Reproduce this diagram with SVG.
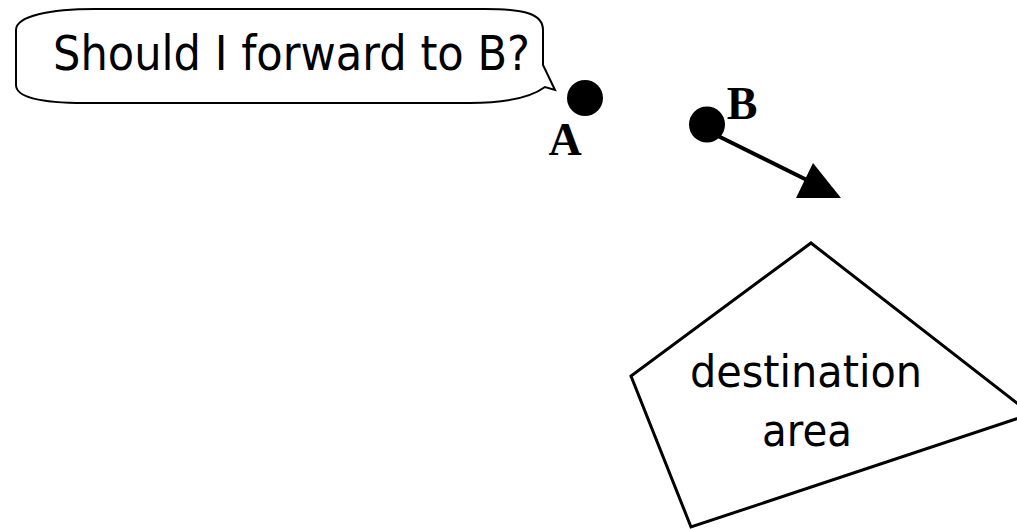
<svg xmlns="http://www.w3.org/2000/svg" width="1017" height="529" viewBox="0 0 1017 529">
  <style>
    .outline { fill: #ffffff; stroke: #000000; stroke-linejoin: miter; }
    .sans { font-family: "DejaVu Sans", Verdana, sans-serif; fill: #000000; }
    .serif { font-family: "Liberation Serif", "Times New Roman", serif; font-weight: bold; fill: #000000; }
    .dot { fill: #000000; }
  </style>
  <rect x="0" y="0" width="1017" height="529" fill="#ffffff"/>

  <g id="bubble">
    <path class="outline" stroke-width="2" d="M16,30 C16,16 50,9 95,9 L485,9 C525,9 543,14 543,30 L543,65 L555,90 L545,87 C530,98 505,103 470,103 L85,103 C40,103 16,97 16,85 Z"/>
    <text class="sans" x="53" y="70" font-size="48" textLength="477" lengthAdjust="spacingAndGlyphs">Should I forward to B?</text>
  </g>

  <g id="nodeA">
    <circle class="dot" cx="585" cy="98" r="18"/>
    <text class="serif" x="565" y="155" font-size="46" text-anchor="middle">A</text>
  </g>

  <g id="nodeB">
    <circle class="dot" cx="707" cy="124.5" r="18"/>
    <text class="serif" x="742" y="119" font-size="46" text-anchor="middle">B</text>
  </g>

  <g id="destination">
    <polygon class="outline" stroke-width="3" points="811,243 1031,414 691,527 631,376"/>
    <text class="sans" x="690" y="387" font-size="44" textLength="232" lengthAdjust="spacingAndGlyphs">destination</text>
    <text class="sans" x="762" y="446" font-size="44" textLength="90" lengthAdjust="spacingAndGlyphs">area</text>
  </g>

  <g id="connectors">
    <line x1="718" y1="136" x2="815" y2="184" stroke="#000000" stroke-width="4"/>
    <polygon fill="#000000" points="813,163 841,198 796,198"/>
  </g>
</svg>
